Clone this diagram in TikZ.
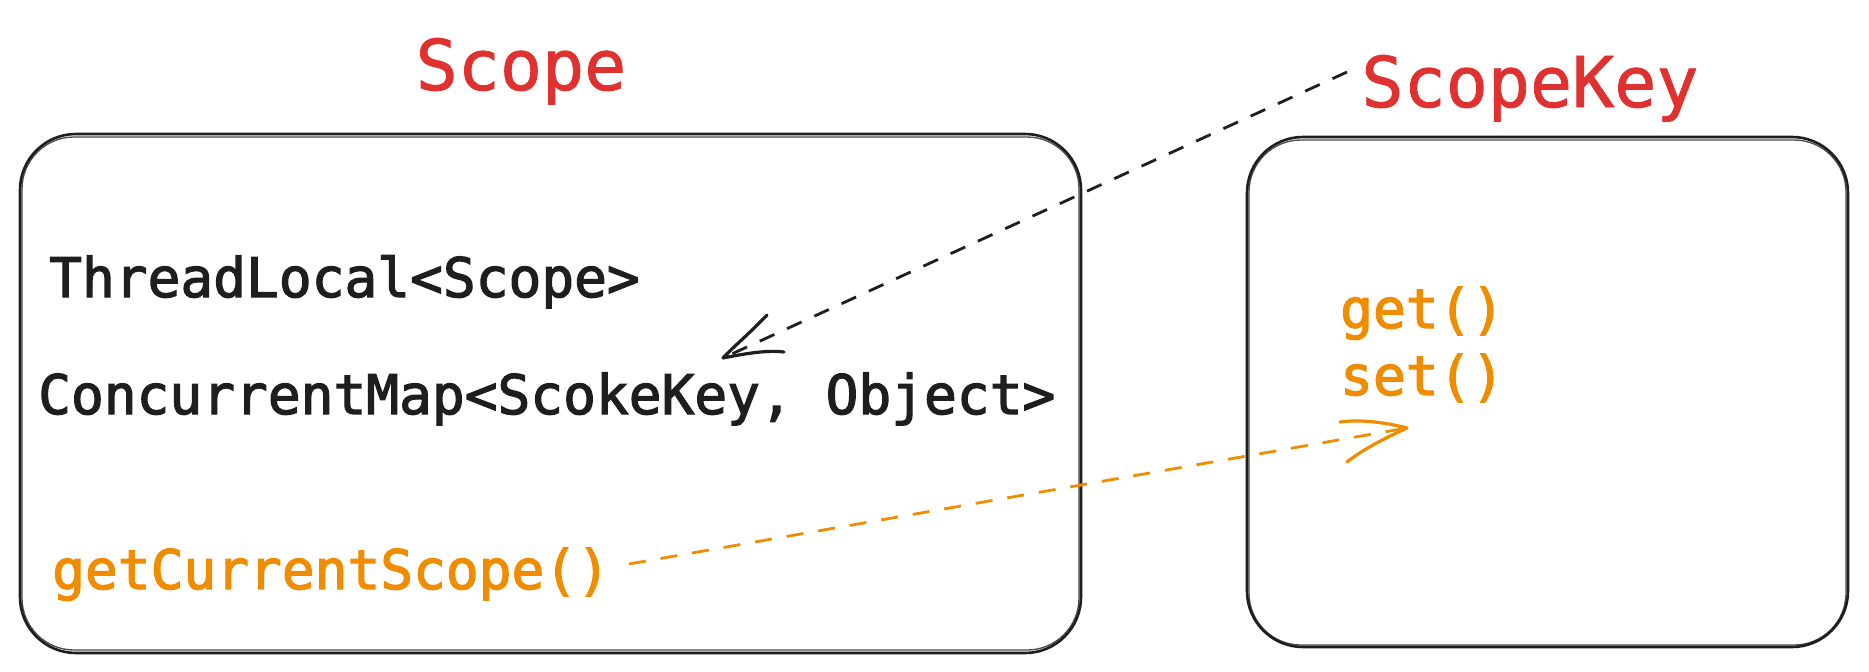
\documentclass[tikz,border=0pt]{standalone}
\usepackage{fontspec}
\newfontfamily\codefont[FakeBold=2.3]{DejaVu Sans Mono}
\newfontfamily\titlefont[FakeBold=1.2]{DejaVu Sans Mono}
\definecolor{exred}{HTML}{E03131}
\definecolor{exorange}{HTML}{F08C00}
\definecolor{exblack}{HTML}{1E1E1E}
\begin{document}
\begin{tikzpicture}[x=1pt,y=-1pt,
  sketchbox/.style={draw=exblack, line width=2.6pt, rounded corners=56pt, inner sep=0pt},
  sketchtwo/.style={draw=exblack, line width=1.3pt, rounded corners=52pt, opacity=0.8},
  title/.style={text=exred, font=\titlefont\fontsize{70}{80}\selectfont, inner sep=0pt, anchor=base},
  code/.style={text=exblack, font=\codefont\fontsize{54.5}{67}\selectfont, inner sep=0pt, anchor=base west},
  method/.style={text=exorange, font=\codefont\fontsize{54.5}{67}\selectfont, inner sep=0pt, anchor=base west, align=left},
  blackdash/.style={draw=exblack, line width=2.8pt, dash pattern=on 16pt off 14pt},
  orangedash/.style={draw=exorange, line width=2.8pt, dash pattern=on 17pt off 15pt},
  blackhead/.style={draw=exblack, line width=3.2pt, line cap=round, line join=round},
  orangehead/.style={draw=exorange, line width=3.2pt, line cap=round, line join=round}]
\useasboundingbox (0,0) rectangle (1869,672);
\fill[white] (0,0) rectangle (1869,672);

% boxes
\node[sketchbox, minimum width=1061pt, minimum height=519pt] (scopebox) at (550.5,393.5) {};
\draw[sketchtwo] (22,137) rectangle (1079,650);
\node[sketchbox, minimum width=601pt, minimum height=510pt] (keybox) at (1547.5,392) {};
\draw[sketchtwo] (1249,140) rectangle (1846,645);

% titles
\node[title] (scopetitle) at (521,90) {Scope};
\node[title] (keytitle) at (1530,107) {ScopeKey};

% texts in Scope
\node[code] (tl) at (49,297) {ThreadLocal<Scope>};
\node[code] (cm) at (38,414) {ConcurrentMap<ScokeKey, Object>};
\node[method] (gcs) at (52,589) {getCurrentScope()};

% texts in ScopeKey (base anchor = baseline of the last line)
\node[method] (gs) at (1340,395) {get()\\set()};

% black dashed arrow
\coordinate (bstart) at (1347,72);
\coordinate (btip) at (723,358);
\draw[blackdash] (bstart) -- (btip);
\draw[blackhead] (767,315) .. controls (748,335) and (732,348) .. (btip)
  .. controls (748,353) and (768,350) .. (784,352);

% orange dashed arrow
\coordinate (ostart) at (629,564);
\coordinate (otip) at (1407,428);
\draw[orangedash] (ostart) -- (otip);
\draw[orangehead] (1340,422) .. controls (1362,419) and (1388,423) .. (otip)
  .. controls (1385,438) and (1362,450) .. (1347,462);
\end{tikzpicture}
\end{document}
